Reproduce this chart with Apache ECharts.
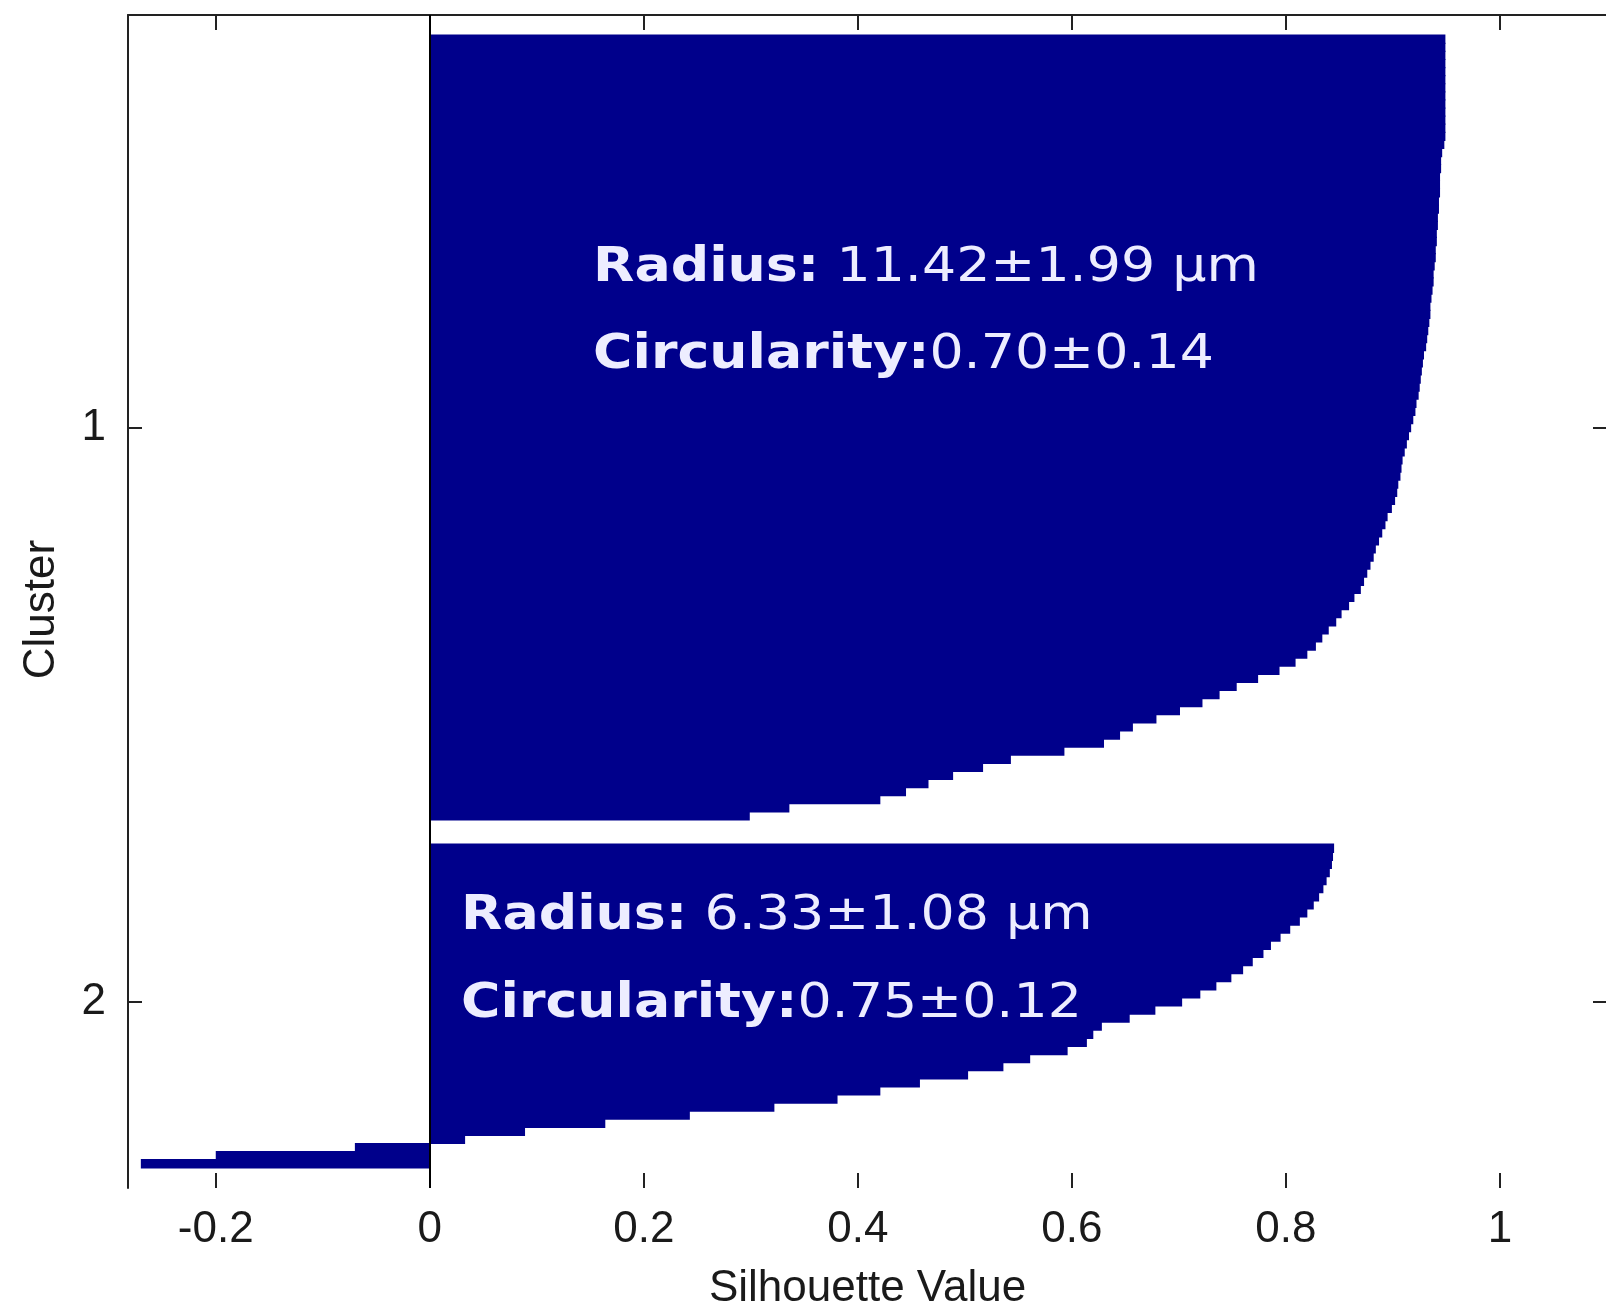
<!DOCTYPE html>
<html>
<head>
<meta charset="utf-8">
<title>Silhouette plot</title>
<script src="https://cdn.jsdelivr.net/npm/echarts@6/dist/echarts.min.js"></script>
<style>
  html, body { margin: 0; padding: 0; background: #ffffff; }
  #chart { width: 1606px; height: 1309px; }
</style>
</head>
<body>
<div id="chart"></div>
<script>
// silhouette values, sorted descending inside each cluster
const cluster1 = [
  0.949, 0.949, 0.949, 0.949, 0.949, 0.949, 0.949, 0.949, 0.949, 0.949,
  0.949, 0.949, 0.949, 0.948, 0.946, 0.945, 0.945, 0.944, 0.944, 0.944,
  0.943, 0.943, 0.942, 0.942, 0.941, 0.941, 0.940, 0.940, 0.939, 0.938,
  0.938, 0.937, 0.936, 0.935, 0.935, 0.934, 0.933, 0.932, 0.931, 0.929,
  0.928, 0.927, 0.926, 0.925, 0.924, 0.922, 0.921, 0.919, 0.917, 0.915,
  0.913, 0.911, 0.909, 0.908, 0.907, 0.905, 0.904, 0.902, 0.899, 0.895,
  0.893, 0.890, 0.887, 0.884, 0.882, 0.879, 0.876, 0.873, 0.870, 0.864,
  0.859, 0.852, 0.847, 0.840, 0.834, 0.828, 0.820, 0.809, 0.794, 0.774,
  0.754, 0.738, 0.722, 0.701, 0.679, 0.657, 0.645, 0.630, 0.593, 0.543,
  0.517, 0.489, 0.466, 0.445, 0.421, 0.336, 0.299
];
const cluster2 = [
  0.845, 0.844, 0.843, 0.841, 0.838, 0.835, 0.831, 0.826, 0.820, 0.813,
  0.804, 0.795, 0.786, 0.779, 0.769, 0.760, 0.749, 0.735, 0.720, 0.703,
  0.678, 0.654, 0.628, 0.620, 0.614, 0.596, 0.561, 0.536, 0.503, 0.458,
  0.421, 0.381, 0.322, 0.243, 0.164, 0.089, 0.033, -0.070, -0.200, -0.270
];
const clusterNames = ['1', '2'];
const xTicks = [-0.2, 0, 0.2, 0.4, 0.6, 0.8, 1];
const xMin = -0.282;
const xMax = 1.1;
const gapRows = 3;

const annotations = [
  { bold: 'Radius:', rest: ' 11.42±1.99 µm' },
  { bold: 'Circularity:', rest: '0.70±0.14' },
  { bold: 'Radius:', rest: ' 6.33±1.08 µm' },
  { bold: 'Circularity:', rest: '0.75±0.12' }
];

// rows like matlab silhouette: gap, cluster 1, gap, cluster 2, gap
const blank = () => new Array(gapRows).fill(null);
const rows = [...blank(), ...cluster1, ...blank(), ...cluster2, ...blank()];
const rowIds = rows.map((_, i) => String(i));

const tickRows = {};
let start = gapRows;
[cluster1, cluster2].forEach((c, k) => {
  tickRows[start + Math.floor((c.length - 1) / 2)] = clusterNames[k];
  start += c.length + gapRows;
});
const isTick = (idx) => tickRows[idx] !== undefined;

const axisColor = '#222222';
const barColor = '#00008b';
const textColor = '#1a1a1a';
const labelFont = 'Liberation Sans, Arial, sans-serif';
const annoColor = '#ededff';

const chart = echarts.init(document.getElementById('chart'));

const annoPos = [
  { x: 593, y: 269 },
  { x: 593, y: 356 },
  { x: 461, y: 917 },
  { x: 461, y: 1005 }
];

chart.setOption({
  animation: false,
  backgroundColor: '#ffffff',
  grid: { left: 128, right: -1, top: 15, bottom: 121, containLabel: false, outerBoundsMode: 'none' },
  xAxis: [
    {
      type: 'value',
      position: 'bottom',
      min: xMin,
      max: xMax,
      axisLine: { show: false, onZero: false },
      axisTick: { show: true, inside: true, length: 15, customValues: xTicks, lineStyle: { color: axisColor, width: 2 } },
      axisLabel: { customValues: xTicks, margin: 20, fontSize: 44, fontFamily: labelFont, color: textColor },
      splitLine: { show: false },
      name: 'Silhouette Value',
      nameLocation: 'middle',
      nameGap: 79,
      nameTextStyle: { fontSize: 44, fontFamily: labelFont, color: textColor }
    },
    {
      type: 'value',
      position: 'top',
      min: xMin,
      max: xMax,
      axisLine: { show: true, onZero: false, lineStyle: { color: axisColor, width: 2 } },
      axisTick: { show: true, inside: true, length: 15, customValues: xTicks, lineStyle: { color: axisColor, width: 2 } },
      axisLabel: { show: false },
      splitLine: { show: false }
    }
  ],
  yAxis: [
    {
      type: 'category',
      position: 'left',
      inverse: true,
      boundaryGap: false,
      data: rowIds,
      axisLine: { show: true, onZero: false, lineStyle: { color: axisColor, width: 2 } },
      axisTick: { show: true, inside: true, length: 14, interval: isTick, lineStyle: { color: axisColor, width: 2 } },
      axisLabel: {
        interval: isTick,
        formatter: (v, i) => tickRows[i] || '',
        margin: 22,
        fontSize: 44,
        fontFamily: labelFont,
        color: textColor
      },
      splitLine: { show: false },
      name: 'Cluster',
      nameLocation: 'middle',
      nameRotate: 90,
      nameGap: 64,
      nameTextStyle: { fontSize: 44, fontFamily: labelFont, color: textColor, padding: [0, 16, 0, 0] }
    },
    {
      type: 'category',
      position: 'right',
      inverse: true,
      boundaryGap: false,
      data: rowIds,
      axisLine: { show: true, onZero: false, lineStyle: { color: axisColor, width: 2 } },
      axisTick: { show: true, inside: true, length: 14, interval: isTick, lineStyle: { color: axisColor, width: 2 } },
      axisLabel: { show: false },
      splitLine: { show: false }
    }
  ],
  series: [
    {
      type: 'bar',
      xAxisIndex: 0,
      yAxisIndex: 0,
      data: rows,
      barWidth: '115%',
      itemStyle: { color: barColor },
      silent: true,
      markLine: {
        silent: true,
        symbol: ['none', 'none'],
        label: { show: false },
        lineStyle: { color: '#000000', width: 2, type: 'solid' },
        data: [{ xAxis: 0 }]
      }
    }
  ],
  graphic: annotations.map((a, i) => ({
    type: 'text',
    x: annoPos[i].x,
    y: annoPos[i].y,
    scaleX: 1.12,
    silent: true,
    z: 100,
    style: {
      text: '{b|' + a.bold + '}{r|' + a.rest + '}',
      verticalAlign: 'middle',
      fill: annoColor,
      fontFamily: 'DejaVu Sans',
      fontSize: 48,
      rich: {
        b: { fontFamily: 'DejaVu Sans', fontSize: 48, fontWeight: 'bold', fill: annoColor },
        r: { fontFamily: 'DejaVu Sans', fontSize: 48, fontWeight: 'normal', fill: annoColor }
      }
    }
  }))
});
</script>
</body>
</html>
